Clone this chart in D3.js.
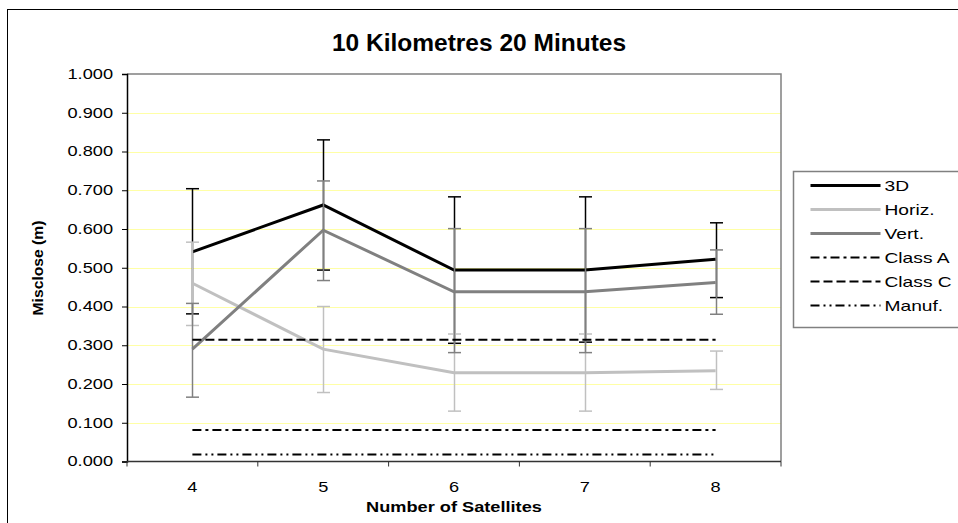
<!DOCTYPE html>
<html>
<head>
<meta charset="utf-8">
<script src="https://cdn.jsdelivr.net/npm/d3@7"></script>
<style>
  html, body { margin: 0; padding: 0; background: #fff; }
  svg { display: block; font-family: "Liberation Sans", Arial, sans-serif; }
</style>
</head>
<body>
<svg id="chart" width="958" height="523"></svg>
<script>
// Misclose by number of satellites, 10 km baseline, 20 minute sessions
const categories = [4, 5, 6, 7, 8];

const series3D    = [0.541, 0.662, 0.494, 0.494, 0.522];
const series3DHi  = [0.704, 0.830, 0.683, 0.683, 0.616];
const series3DLo  = [0.381, 0.494, 0.305, 0.308, 0.423];

const seriesHoriz   = [0.460, 0.290, 0.229, 0.229, 0.234];
const seriesHorizHi = [0.566, 0.400, 0.329, 0.329, 0.285];
const seriesHorizLo = [0.351, 0.178, 0.130, 0.130, 0.186];

const seriesVert   = [0.290, 0.597, 0.438, 0.438, 0.462];
const seriesVertHi = [0.408, 0.724, 0.601, 0.601, 0.546];
const seriesVertLo = [0.166, 0.467, 0.281, 0.281, 0.380];

const classA = [0.081, 0.081, 0.081, 0.081, 0.081];
const classC = [0.314, 0.314, 0.314, 0.314, 0.314];
const manuf  = [0.018, 0.018, 0.018, 0.018, 0.018];

const yTicks = [0, 0.1, 0.2, 0.3, 0.4, 0.5, 0.6, 0.7, 0.8, 0.9, 1.0];

const svg = d3.select("#chart");
const WIDE = 1.3; // horizontal stretch of the small label text

// outer chart frame (extends past right/bottom of the view)
svg.append("rect")
  .attr("x", 7.5).attr("y", 9.5)
  .attr("width", 1000).attr("height", 600)
  .attr("fill", "#fff").attr("stroke", "#000").attr("stroke-width", 1);

const plot = { left: 127, right: 781, top: 74, bottom: 461.5 };

const x = d3.scaleBand().domain(categories).range([plot.left, plot.right]).padding(0);
const cx = d => x(d) + x.bandwidth() / 2;
const y = d3.scaleLinear().domain([0, 1]).range([plot.bottom, plot.top]);

// gridlines
svg.append("g").selectAll("line")
  .data(yTicks.filter(t => t > 0 && t < 1))
  .join("line")
  .attr("x1", plot.left).attr("x2", plot.right)
  .attr("y1", d => Math.round(y(d)) + 0.5).attr("y2", d => Math.round(y(d)) + 0.5)
  .attr("stroke", "#ffffa6").attr("stroke-width", 1);

// plot area top and right border
svg.append("path")
  .attr("d", `M${plot.left},${plot.top}H${plot.right}V${plot.bottom}`)
  .attr("fill", "none").attr("stroke", "#808080").attr("stroke-width", 1.5);

// axes
const yAxis = d3.axisLeft(y).tickValues(yTicks).tickFormat(d3.format(".3f")).tickSize(5).tickPadding(9);
const gy = svg.append("g").attr("transform", `translate(${plot.left},0)`).call(yAxis);
gy.select(".domain").attr("stroke", "#000").attr("stroke-width", 1.5);
gy.selectAll(".tick line").attr("stroke", "#000");
gy.selectAll("text")
  .attr("x", 0)
  .attr("transform", `translate(-14,0) scale(${WIDE},1)`)
  .attr("font-size", 14).attr("fill", "#000")
  .attr("font-family", "Liberation Sans, Arial, sans-serif");

const gx = svg.append("g").attr("transform", `translate(0,${plot.bottom})`);
gx.append("line").attr("x1", plot.left).attr("x2", plot.right)
  .attr("stroke", "#333").attr("stroke-width", 1.5);
// tick marks sit at the category boundaries
const bounds = categories.map(c => x(c)).concat([plot.right]);
gx.selectAll("line.tk").data(bounds).join("line").attr("class", "tk")
  .attr("x1", d => d).attr("x2", d => d).attr("y1", 0).attr("y2", 5)
  .attr("stroke", "#333").attr("stroke-width", 1);
gx.selectAll("text").data(categories).join("text")
  .attr("transform", d => `translate(${cx(d)},30) scale(${WIDE},1)`)
  .attr("text-anchor", "middle").attr("font-size", 14).attr("fill", "#000")
  .text(d => d);

// titles
svg.append("text").attr("x", 479).attr("y", 51).attr("text-anchor", "middle")
  .attr("font-size", 24.5).attr("font-weight", "bold").text("10 Kilometres 20 Minutes");
svg.append("text").attr("transform", `translate(454,512) scale(${WIDE},1)`)
  .attr("text-anchor", "middle")
  .attr("font-size", 14).attr("font-weight", "bold").text("Number of Satellites");
svg.append("text").attr("transform", "translate(43,268) rotate(-90) scale(1.12,1)")
  .attr("text-anchor", "middle").attr("font-size", 14).attr("font-weight", "bold")
  .text("Misclose (m)");

const line = d3.line().x((d, i) => cx(categories[i])).y(d => y(d));

// data series with error bars, drawn in legend order (later series on top)
const seriesList = [
  { name: "3D",     values: series3D,    hi: series3DHi,    lo: series3DLo,    color: "#000000" },
  { name: "Horiz.", values: seriesHoriz, hi: seriesHorizHi, lo: seriesHorizLo, color: "#c0c0c0" },
  { name: "Vert.",  values: seriesVert,  hi: seriesVertHi,  lo: seriesVertLo,  color: "#808080" }
];
const capW = 6.5;
seriesList.forEach(s => {
  const g = svg.append("g");
  categories.forEach((c, i) => {
    const xc = Math.round(cx(c)) + 0.5;
    g.append("line").attr("x1", xc).attr("x2", xc)
      .attr("y1", y(s.hi[i])).attr("y2", y(s.lo[i]))
      .attr("stroke", s.color).attr("stroke-width", 1.5);
    [s.hi[i], s.lo[i]].forEach(v => {
      g.append("line").attr("x1", xc - capW).attr("x2", xc + capW)
        .attr("y1", y(v)).attr("y2", y(v))
        .attr("stroke", s.color).attr("stroke-width", 1.5);
    });
  });
  g.append("path").attr("d", line(s.values))
    .attr("fill", "none").attr("stroke", s.color).attr("stroke-width", 3)
    .attr("stroke-linejoin", "miter");
});

// reference lines
const refLines = [
  { name: "Class A", values: classA, dash: "9,4,3,4" },
  { name: "Class C", values: classC, dash: "9,4" },
  { name: "Manuf.",  values: manuf,  dash: "9,4,2,4,2,4" }
];
refLines.forEach(r => {
  svg.append("path").attr("d", line(r.values))
    .attr("fill", "none").attr("stroke", "#000").attr("stroke-width", 2)
    .attr("stroke-dasharray", r.dash);
});

// legend
const legendItems = [
  { name: "3D",      color: "#000000", width: 3, dash: null },
  { name: "Horiz.",  color: "#c0c0c0", width: 3, dash: null },
  { name: "Vert.",   color: "#808080", width: 3, dash: null },
  { name: "Class A", color: "#000000", width: 2, dash: "9,4,3,4" },
  { name: "Class C", color: "#000000", width: 2, dash: "9,4" },
  { name: "Manuf.",  color: "#000000", width: 2, dash: "9,4,2,4,2,4" }
];
const lg = svg.append("g").attr("transform", "translate(793.5,171.5)");
lg.append("rect").attr("width", 200).attr("height", 156)
  .attr("fill", "#fff").attr("stroke", "#808080").attr("stroke-width", 1.5);
legendItems.forEach((it, i) => {
  const yy = 14 + i * 24;
  lg.append("line").attr("x1", 17).attr("x2", 87).attr("y1", yy).attr("y2", yy)
    .attr("stroke", it.color).attr("stroke-width", it.width)
    .attr("stroke-dasharray", it.dash);
  lg.append("text").attr("transform", `translate(91,${yy + 5}) scale(1.28,1)`)
    .attr("font-size", 15).attr("fill", "#000").text(it.name);
});
</script>
</body>
</html>
